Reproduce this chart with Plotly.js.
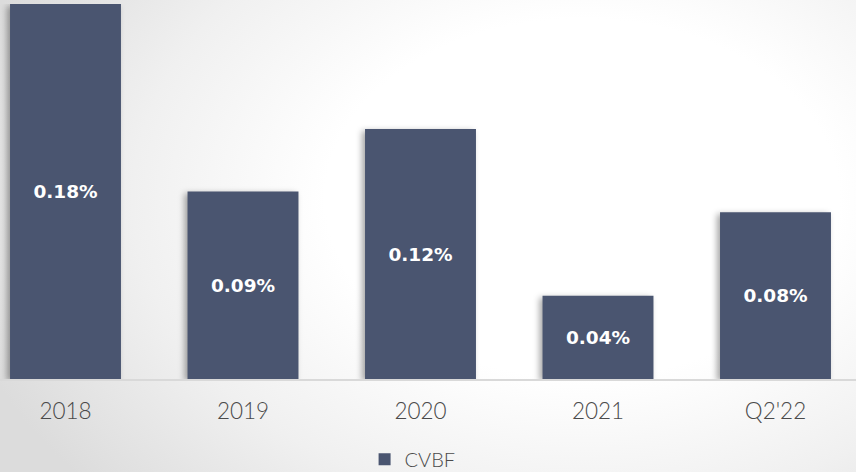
<!DOCTYPE html>
<html>
<head>
<meta charset="utf-8">
<script src="https://cdn.plot.ly/plotly-3.0.1.min.js"></script>
<style>
html,body{margin:0;padding:0;}
body{width:856px;height:472px;overflow:hidden;
background: radial-gradient(ellipse 75% 95% at 68% 42%, #ffffff 0%, #ffffff 40%, #f0f0f0 70%, #dcdcdc 100%);}
#chart{width:856px;height:472px;}
.bars path{filter: drop-shadow(-3px 2px 3px rgba(0,0,0,0.35));}
</style>
</head>
<body>
<div id="chart"></div>
<script>
var categories = ["2018", "2019", "2020", "2021", "Q2'22"];
var values = [0.18, 0.09, 0.12, 0.04, 0.08];
var labels = ["0.18%", "0.09%", "0.12%", "0.04%", "0.08%"];
var seriesName = "CVBF";

var trace = {
  type: 'bar',
  x: categories,
  y: values,
  name: seriesName,
  text: labels,
  textposition: 'inside',
  insidetextanchor: 'middle',
  textangle: 0,
  constraintext: 'none',
  textfont: {family: '"DejaVu Sans", sans-serif', size: 18.5, color: '#ffffff', weight: 'bold'},
  marker: {color: '#4a5570'},
  width: 0.625,
  hoverinfo: 'none',
  showlegend: true
};

var layout = {
  width: 856,
  height: 472,
  margin: {l: 0, r: 0, t: 4, b: 93},
  paper_bgcolor: 'rgba(0,0,0,0)',
  plot_bgcolor: 'rgba(0,0,0,0)',
  xaxis: {
    type: 'category',
    range: [-0.369, 4.4535],
    automargin: false,
    showline: true,
    linecolor: '#d9d9d9',
    linewidth: 1.5,
    ticks: '',
    tickfont: {family: 'Lato, "DejaVu Sans", sans-serif', size: 22.5, color: '#4a4a4a', weight: 300},
    ticklabelstandoff: 11,
    showgrid: false,
    zeroline: false,
    fixedrange: true
  },
  yaxis: {
    range: [0, 0.18],
    automargin: false,
    showticklabels: false,
    showgrid: false,
    zeroline: false,
    showline: false,
    fixedrange: true
  },
  showlegend: true,
  legend: {
    orientation: 'h',
    xref: 'paper',
    x: 0.482,
    xanchor: 'center',
    yref: 'container',
    y: 0.027,
    yanchor: 'middle',
    font: {family: 'Lato, "DejaVu Sans", sans-serif', size: 20, color: '#4a4a4a', weight: 300},
    bgcolor: 'rgba(0,0,0,0)',
    itemwidth: 30
  }
};

Plotly.newPlot('chart', [trace], layout, {displayModeBar: false, staticPlot: true});
</script>
</body>
</html>
